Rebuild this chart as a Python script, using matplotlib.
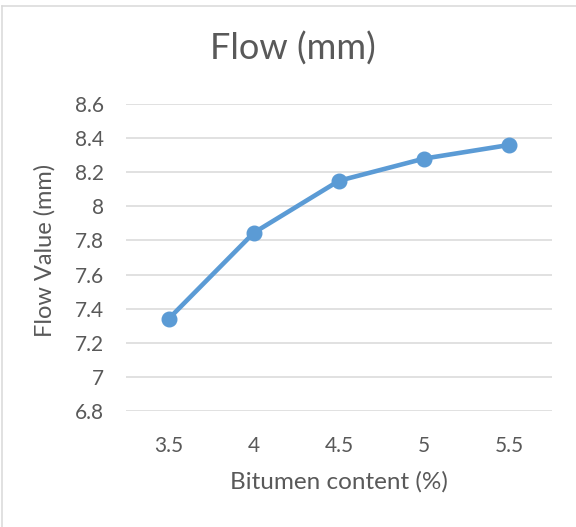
import matplotlib
matplotlib.use("Agg")
import matplotlib.pyplot as plt
from matplotlib.lines import Line2D

categories = ["3.5", "4", "4.5", "5", "5.5"]
flow_values = [7.34, 7.845, 8.15, 8.28, 8.36]
y_ticks = [6.8, 7.0, 7.2, 7.4, 7.6, 7.8, 8.0, 8.2, 8.4, 8.6]
y_tick_labels = ["6.8", "7", "7.2", "7.4", "7.6", "7.8", "8", "8.2", "8.4", "8.6"]

plt.rcParams['font.family'] = ['Lato', 'DejaVu Sans']
TXT = "#595959"
W, H = 576, 527
fig = plt.figure(figsize=(W / 100, H / 100), dpi=100)
ax = fig.add_axes([126 / W, 1 - 411 / H, (552 - 126) / W, (411 - 104) / H])

x = list(range(len(categories)))
ax.plot(x, flow_values, color="#5B9BD5", linewidth=3.3, marker="o",
        markersize=10.5, solid_capstyle="round", zorder=3, clip_on=False)

ax.set_xlim(-0.5, len(categories) - 0.5)
ax.set_ylim(6.8, 8.6)
ax.set_yticks(y_ticks)
ax.set_yticklabels(y_tick_labels)
ax.set_xticks(x)
ax.set_xticklabels(categories)
ax.yaxis.grid(True, color="#d9d9d9", linewidth=1.1)
ax.set_axisbelow(True)
for s in ax.spines.values():
    s.set_visible(False)
ax.tick_params(axis="both", length=0, labelsize=15, labelcolor=TXT)
ax.tick_params(axis="y", pad=16)
ax.tick_params(axis="x", pad=18)

fig.text(293 / W, 1 - 49 / H, "Flow (mm)", ha="center", va="center",
         fontsize=26, color=TXT)
fig.text(339 / W, 1 - 482 / H, "Bitumen content (%)", ha="center", va="center",
         fontsize=17.5, color=TXT)
fig.text(45 / W, 1 - 250 / H, "Flow Value (mm)", ha="center", va="center",
         rotation=90, fontsize=17, color=TXT)

# chart area border (top and left visible)
fig.add_artist(Line2D([1.5 / W, 1.0], [1 - 5.5 / H, 1 - 5.5 / H],
                      transform=fig.transFigure, color="#d9d9d9", linewidth=1.1))
fig.add_artist(Line2D([1.5 / W, 1.5 / W], [0, 1 - 5.5 / H],
                      transform=fig.transFigure, color="#d9d9d9", linewidth=1.1))

fig.savefig("out.png", dpi=100, facecolor="white")
